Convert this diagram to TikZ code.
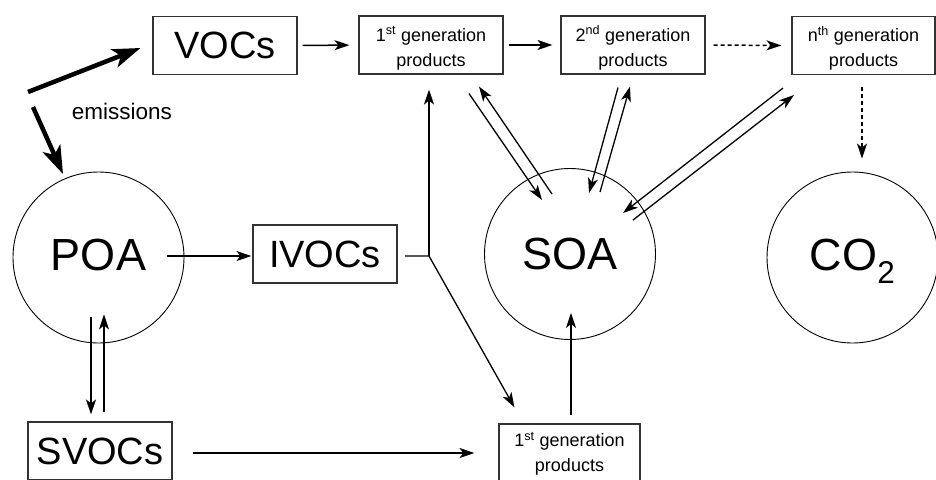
\documentclass[tikz,border=0pt]{standalone}
\usepackage{fontspec}
\setmainfont{Liberation Sans}
\usetikzlibrary{arrows.meta,calc}
\newcommand{\gentwo}[2]{\raisebox{#1}[\height][\depth]{\begin{tabular}{@{}c@{}}#2\end{tabular}}}
\begin{document}
\begin{tikzpicture}[x=1pt,y=-1pt,
  box/.style={draw=black!80, line width=1.1pt, rectangle, inner sep=0pt, minimum width=144pt, minimum height=58pt},
  big/.style={font=\fontsize{38}{40}\selectfont},
  gen/.style={font=\fontsize{18}{25}\selectfont},
  pool/.style={draw, circle, line width=0.9pt, inner sep=0pt, minimum size=171pt, font=\fontsize{45}{48}\selectfont},
  arr/.style={-{Stealth[length=15pt,width=10pt,inset=4pt]}, line width=1.5pt},
  dasharr/.style={arr, dash pattern=on 4pt off 3pt},
  emit/.style={-{Stealth[length=28pt,width=19pt,inset=7pt]}, line width=4.5pt},
  stub/.style={draw=black!65, line width=1.6pt}
  ]
\useasboundingbox (0,0) rectangle (936,479);

% boxes
\node[box,big] (voc) at (225,45.5) {VOCs};
\node[box,gen] (g1) at (431,45) {\gentwo{-3.5pt}{1\textsuperscript{st} generation\\products}};
\node[box,gen] (g2) at (633,45) {\gentwo{-3.5pt}{2\textsuperscript{nd} generation\\products}};
\node[box,gen,minimum width=143pt] (nth) at (863.5,45.5) {\gentwo{-3.5pt}{n\textsuperscript{th} generation\\products}};
\node[box,big] (ivoc) at (325,254) {IVOCs};
\node[box,big] (svoc) at (100,451) {SVOCs};
\node[box,gen,minimum width=141pt] (bg) at (569.5,453) {\gentwo{-1pt}{1\textsuperscript{st} generation\\products}};

% pools
\node[pool] (poa) at (98.5,257.5) {\raisebox{0pt}[\height][6pt]{POA}};
\node[pool] (soa) at (570,254) {SOA};
\node[pool] (co2) at (852.5,257.5) {\raisebox{0pt}[\height][6pt]{CO\textsubscript{2}}};

% emissions
\coordinate (e1) at (28,92);
\coordinate (e2) at (33,107);
\draw[emit] (e1) -- ($(voc.west)+(-12,2.5)$);
\draw[emit] (e2) -- ($(poa.center)+(-35.5,-83.5)$);
\node[font=\fontsize{22.5}{25}\selectfont, anchor=base, inner sep=0pt] (em) at (122,119) {emissions};

% top chain
\draw[arr] (voc.east) [shorten <=5pt, shorten >=9pt] -- (g1.west);
\draw[arr] (g1.east) [shorten <=5pt, shorten >=8pt] -- (g2.west);
\draw[dasharr] (g2.east) [shorten <=8pt, shorten >=10pt] -- (nth.west);
\draw[dasharr] ($(nth.south)+(-1.5,12)$) -- ($(co2.north)+(9.5,-13)$);

% POA links
\draw[arr] ($(poa.east)+(-17,-1.5)$) -- ($(ivoc.west)+(-1,2)$);
\draw[arr] ($(poa.south)+(-7.5,-26)$) -- ($(svoc.north)+(-9,-7)$);
\draw[arr] ($(svoc.north)+(4,-9)$) -- ($(poa.south)+(5.5,-29)$);

% SVOCs / bottom
\draw[arr] ($(svoc.east)+(20,2)$) -- ($(bg.west)+(-24,0)$);
\draw[arr] ($(bg.north)+(1.5,-8)$) -- ($(soa.south)+(1,-27)$);

% IVOCs junction
\coordinate (j) at (429,256);
\draw[stub] ($(ivoc.east)+(7,2)$) -- (j);
\draw[arr, line width=2pt] (j) -- ($(j |- g1.south)+(0,15)$);
\draw[arr, line width=1.3pt] (j) -- ($(bg.north west)+(16,-16)$);

% SOA exchanges
\draw[arr, line width=1.3pt] ($(g1.south)+(38,19)$) -- ($(soa.center)+(-28,-54)$);
\draw[arr, line width=1.3pt] ($(soa.center)+(-18,-60)$) -- ($(g1.south)+(48,12)$);
\draw[arr, line width=1.3pt] ($(g2.south)+(-15,13)$) -- ($(soa.center)+(19,-61)$);
\draw[arr, line width=1.3pt] ($(soa.center)+(30,-62)$) -- ($(g2.south)+(-3,12)$);
\draw[arr, line width=1.3pt] ($(nth.south)+(-80.5,13)$) -- ($(soa.center)+(53,-41)$);
\draw[arr, line width=1.3pt] ($(soa.center)+(63,-34)$) -- ($(nth.south)+(-69.5,20)$);
\end{tikzpicture}
\end{document}
